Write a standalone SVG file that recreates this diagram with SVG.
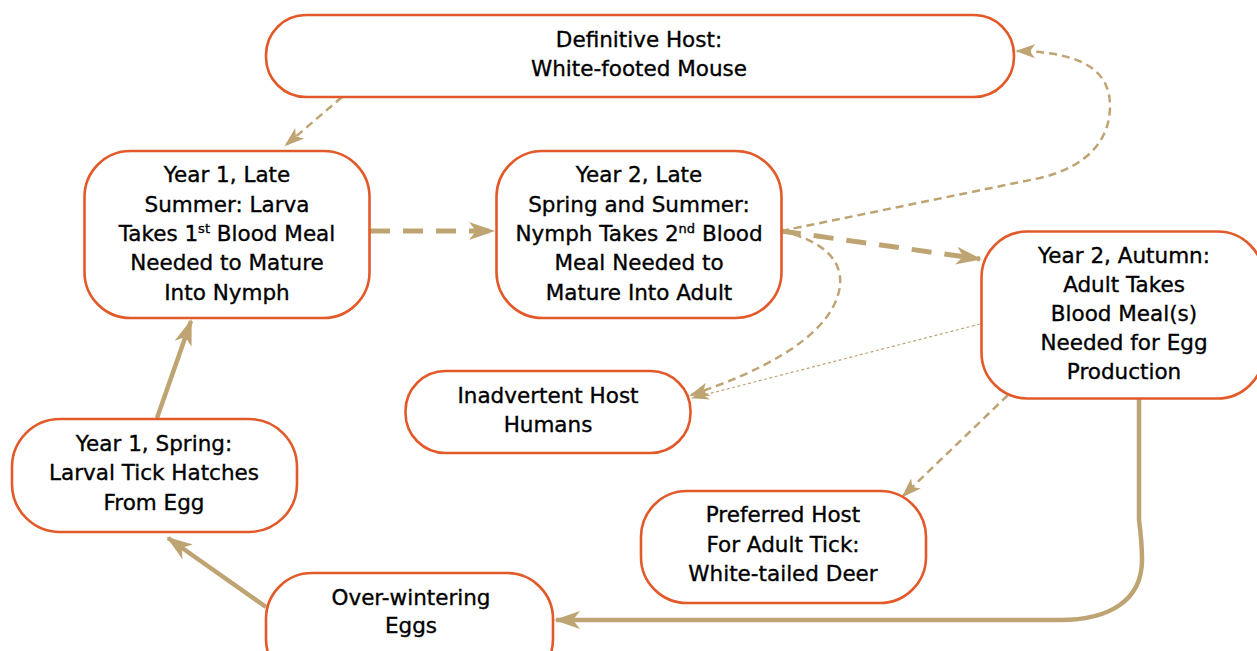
<svg xmlns="http://www.w3.org/2000/svg" width="1257" height="651" viewBox="0 0 1257 651">
<style>
.box{fill:#fff;stroke:#E2592A;stroke-width:2.6}
.t{font-family:"DejaVu Sans",sans-serif;font-size:21.5px;fill:#000;stroke:#000;stroke-width:0.35;text-anchor:middle}
.sup{font-size:13px}
.c{fill:none;stroke:#BFA473}
.thick{stroke-width:5;stroke-dasharray:20 13}
.solid{stroke-width:4.5}
.thin{stroke-width:2.5;stroke-dasharray:8 5}
.dot{stroke-width:1.2;stroke-dasharray:3 2.5}
</style>
<defs>
<marker id="aL" markerUnits="userSpaceOnUse" viewBox="0 -10 26 20" refX="24" refY="0" markerWidth="26" markerHeight="20" orient="auto"><path d="M0,-9 L26,0 L0,9 L7,0 Z" fill="#BFA473"/></marker>
<marker id="aM" markerUnits="userSpaceOnUse" viewBox="0 -8 20 16" refX="18" refY="0" markerWidth="20" markerHeight="16" orient="auto"><path d="M0,-7 L20,0 L0,7 L5,0 Z" fill="#BFA473"/></marker>
<marker id="aS" markerUnits="userSpaceOnUse" viewBox="0 -7 18 14" refX="17" refY="0" markerWidth="18" markerHeight="14" orient="auto"><path d="M0,-6 L18,0 L0,6 L5,0 Z" fill="#BFA473"/></marker>
</defs>
<g id="connectors">
<path class="c thin" d="M342,97 L286,145" marker-end="url(#aM)"/>
<path class="c thick" d="M370,231 L493,231" marker-end="url(#aL)"/>
<path class="c thick" d="M781,231 L980,259" marker-end="url(#aL)"/>
<path class="c thin" d="M781,231 L1040,178 C1090,166 1110,138 1110,106 C1110,72 1085,52 1017,51" marker-end="url(#aM)"/>
<path class="c thin" d="M781,231 C822,240 850,262 837,298 C822,340 760,372 691,395" marker-end="url(#aM)"/>
<path class="c dot" d="M980,324 L692,398" marker-end="url(#aS)"/>
<path class="c thin" d="M1008,395 L903,496" marker-end="url(#aM)"/>
<path class="c solid" d="M1139,398 L1139,520 C1141,535 1142,545 1142,560 C1142,600 1110,620 1060,620 L556,620" marker-end="url(#aL)"/>
<path class="c solid" d="M266,607 L168,538" marker-end="url(#aL)"/>
<path class="c solid" d="M157,418 L191,321" marker-end="url(#aL)"/>
</g>
<g id="mouse">
<rect class="box" x="266" y="15" width="748" height="82" rx="40" ry="40"/>
<text class="t" x="639" y="47">Definitive Host:</text>
<text class="t" x="639" y="75.5">White-footed Mouse</text>
</g>
<g id="y1late">
<rect class="box" x="84.5" y="151" width="285" height="167" rx="46" ry="46"/>
<text class="t" x="227" y="182">Year 1, Late</text>
<text class="t" x="227" y="211.5">Summer: Larva</text>
<text class="t" x="227" y="241">Takes 1<tspan class="sup" dy="-8">st</tspan><tspan dy="8"> Blood Meal</tspan></text>
<text class="t" x="227" y="270">Needed to Mature</text>
<text class="t" x="227" y="299.5">Into Nymph</text>
</g>
<g id="y2late">
<rect class="box" x="496.5" y="151" width="285" height="167" rx="46" ry="46"/>
<text class="t" x="639" y="182">Year 2, Late</text>
<text class="t" x="639" y="211.5">Spring and Summer:</text>
<text class="t" x="639" y="241">Nymph Takes 2<tspan class="sup" dy="-8">nd</tspan><tspan dy="8"> Blood</tspan></text>
<text class="t" x="639" y="270">Meal Needed to</text>
<text class="t" x="639" y="299.5">Mature Into Adult</text>
</g>
<g id="y2autumn">
<rect class="box" x="981.5" y="231.5" width="282" height="167" rx="46" ry="46"/>
<text class="t" x="1124" y="263">Year 2, Autumn:</text>
<text class="t" x="1124" y="292">Adult Takes</text>
<text class="t" x="1124" y="321">Blood Meal(s)</text>
<text class="t" x="1124" y="350">Needed for Egg</text>
<text class="t" x="1124" y="378.5">Production</text>
</g>
<g id="inadvertent">
<rect class="box" x="405.5" y="371" width="285" height="82" rx="40" ry="40"/>
<text class="t" x="548" y="403">Inadvertent Host</text>
<text class="t" x="548" y="431.5">Humans</text>
</g>
<g id="y1spring">
<rect class="box" x="12" y="419" width="285" height="113" rx="48" ry="48"/>
<text class="t" x="154" y="450.5">Year 1, Spring:</text>
<text class="t" x="154" y="480">Larval Tick Hatches</text>
<text class="t" x="154" y="509.5">From Egg</text>
</g>
<g id="preferred">
<rect class="box" x="641" y="491" width="285" height="112" rx="46" ry="46"/>
<text class="t" x="783" y="521.5">Preferred Host</text>
<text class="t" x="783" y="551.5">For Adult Tick:</text>
<text class="t" x="783" y="580.5">White-tailed Deer</text>
</g>
<g id="overwintering">
<rect class="box" x="266" y="573" width="287" height="112" rx="46" ry="46"/>
<text class="t" x="411" y="605">Over-wintering</text>
<text class="t" x="411" y="633">Eggs</text>
</g>
</svg>
